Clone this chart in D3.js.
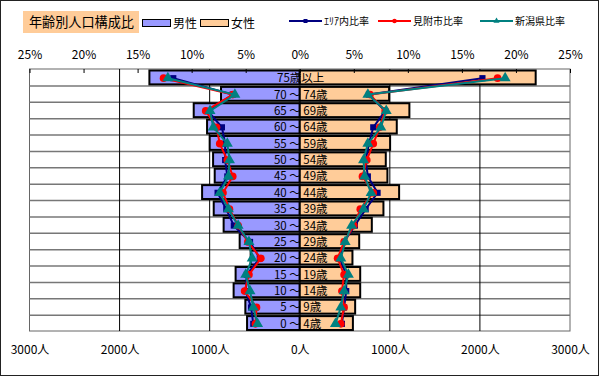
<!DOCTYPE html>
<html>
<head>
<meta charset="utf-8">
<script src="https://cdn.jsdelivr.net/npm/d3@7"></script>
<style>
  body { margin: 0; background: #fff; }
  svg { display: block; font-family: "Noto Sans CJK JP", "DejaVu Sans", sans-serif; }
</style>
</head>
<body>
<svg id="chart" width="600" height="377"></svg>
<script>
// age groups, top (oldest) to bottom
const ages = ["75歳以上", "70 ～ 74歳", "65 ～ 69歳", "60 ～ 64歳", "55 ～ 59歳", "50 ～ 54歳",
  "45 ～ 49歳", "40 ～ 44歳", "35 ～ 39歳", "30 ～ 34歳", "25 ～ 29歳", "20 ～ 24歳",
  "15 ～ 19歳", "10 ～ 14歳", "5 ～ 9歳", "0 ～ 4歳"];

// population (people)
const male = [1669, 874, 1177, 1029, 1000, 962, 944, 1084, 955, 845, 667, 545, 712, 734, 604, 585];
const female = [2619, 992, 1217, 1077, 1003, 955, 973, 1103, 929, 800, 660, 585, 671, 671, 615, 590];

// ratio (%)
const areaMale = [11.7, 6.2, 8.5, 7.2, 6.9, 6.9, 6.7, 7.6, 6.8, 6.1, 4.6, 3.7, 4.9, 5.0, 4.5, 4.3];
const areaFemale = [16.9, 6.4, 7.9, 6.8, 6.4, 6.1, 6.3, 7.2, 6.1, 5.1, 4.1, 3.7, 4.3, 4.3, 4.1, 3.9];
const mitsukeMale = [12.6, 6.2, 8.7, 7.7, 7.4, 6.7, 6.2, 7.1, 6.5, 5.7, 4.8, 3.6, 4.7, 5.1, 4.0, 4.1];
const mitsukeFemale = [18.3, 6.5, 7.9, 7.4, 6.8, 6.2, 5.8, 6.8, 5.6, 5.0, 4.1, 3.5, 4.1, 3.9, 4.1, 3.8];
const niigataMale = [12.2, 6.0, 8.3, 8.0, 6.7, 6.5, 6.6, 7.4, 6.6, 5.7, 4.7, 4.4, 5.0, 4.6, 4.3, 3.9];
const niigataFemale = [19.0, 6.3, 8.0, 7.5, 6.3, 5.9, 6.0, 6.6, 5.9, 4.8, 4.2, 3.8, 4.5, 4.1, 3.8, 3.3];

const pctTicks = [-25, -20, -15, -10, -5, 0, 5, 10, 15, 20, 25];
const popTicks = [-3000, -2000, -1000, 0, 1000, 2000, 3000];

const svg = d3.select("#chart");
const plotL = 29.5, plotR = 570, plotT = 69, plotB = 331;

const xPop = d3.scaleLinear().domain([-3000, 3000]).range([plotL, plotR]);
const xPct = d3.scaleLinear().domain([-25, 25]).range([plotL, plotR]);
const y = d3.scaleBand().domain(ages).range([plotT, plotB]);

// outer frame
svg.append("rect").attr("x", 0.5).attr("y", 0.5).attr("width", 598).attr("height", 375)
  .attr("fill", "#fff").attr("stroke", "#222");

// plot area + grid
svg.append("rect").attr("x", plotL).attr("y", plotT).attr("width", plotR - plotL).attr("height", plotB - plotT)
  .attr("fill", "#fff").attr("stroke", "#666");

svg.append("g").selectAll("line").data(ages.slice(1)).join("line")
  .attr("x1", plotL).attr("x2", plotR)
  .attr("y1", d => y(d) + 0.5).attr("y2", d => y(d) + 0.5)
  .attr("stroke", "#777").attr("stroke-width", 1.5);

svg.append("g").selectAll("line").data(popTicks.filter(d => d !== 0 && Math.abs(d) < 3000)).join("line")
  .attr("x1", d => xPop(d)).attr("x2", d => xPop(d))
  .attr("y1", plotT).attr("y2", plotB)
  .attr("stroke", "#000");

// bars
const bars = svg.append("g").attr("stroke", "#000").attr("stroke-width", 2);
bars.selectAll(".m").data(male).join("rect").attr("class", "m")
  .attr("x", d => xPop(-d)).attr("width", d => xPop(0) - xPop(-d))
  .attr("y", (d, i) => y(ages[i]) + 1.5).attr("height", y.bandwidth() - 2.5)
  .attr("fill", "#9999FF");
bars.selectAll(".f").data(female).join("rect").attr("class", "f")
  .attr("x", xPop(0)).attr("width", d => xPop(d) - xPop(0))
  .attr("y", (d, i) => y(ages[i]) + 1.5).attr("height", y.bandwidth() - 2.5)
  .attr("fill", "#FFCC99");

// age labels
svg.append("g").selectAll("text").data(ages).join("text")
  .attr("x", xPop(0) + 1).attr("y", d => y(d) + y.bandwidth() / 2 + 5)
  .attr("text-anchor", "middle").attr("font-size", 11.5).attr("fill", "#000")
  .text(d => d);

// top axis (percent)
const axTop = svg.append("g").attr("transform", `translate(0,${plotT})`)
  .call(d3.axisTop(xPct).tickValues(pctTicks).tickSize(-4).tickFormat(d => Math.abs(d) + "%"));
axTop.select(".domain").remove();
axTop.selectAll(".tick line").attr("stroke", "#000");
axTop.selectAll(".tick text").attr("y", -10).attr("font-size", 12).attr("fill", "#000")
  .attr("font-family", "'Noto Sans CJK JP', sans-serif");

// bottom axis (people)
const axBot = svg.append("g").attr("transform", `translate(0,${plotB})`)
  .call(d3.axisBottom(xPop).tickValues(popTicks).tickSize(0).tickFormat(d => Math.abs(d) + "人"));
axBot.select(".domain").remove();
axBot.selectAll(".tick text").attr("y", 14).attr("font-size", 12).attr("fill", "#000")
  .attr("font-family", "'Noto Sans CJK JP', sans-serif");

// ratio lines
const series = [
  { name: "ｴﾘｱ内比率", color: "#000080", shape: d3.symbolSquare, size: 38, m: areaMale, f: areaFemale },
  { name: "見附市比率", color: "#FF0000", shape: d3.symbolCircle, size: 46, m: mitsukeMale, f: mitsukeFemale },
  { name: "新潟県比率", color: "#008080", shape: d3.symbolTriangle, size: 52, m: niigataMale, f: niigataFemale }
];
const cy = i => y(ages[i]) + y.bandwidth() / 2 + 1;
const line = d3.line().x(d => d[0]).y(d => d[1]);

series.forEach(s => {
  const g = svg.append("g");
  const sides = [s.m.map((v, i) => [xPct(-v), cy(i)]), s.f.map((v, i) => [xPct(v), cy(i)])];
  sides.forEach(pts => {
    g.append("path").attr("d", line(pts)).attr("fill", "none")
      .attr("stroke", s.color).attr("stroke-width", 2);
    g.selectAll(null).data(pts).join("path")
      .attr("transform", d => `translate(${d[0]},${d[1]})`)
      .attr("d", d3.symbol(s.shape, s.size)).attr("fill", s.color);
  });
});

// title + legend
svg.append("rect").attr("x", 23).attr("y", 11).attr("width", 116).attr("height", 22).attr("fill", "#FFCC99");
svg.append("text").attr("x", 29).attr("y", 27).attr("font-size", 13.5)
  .attr("textLength", 105).attr("lengthAdjust", "spacingAndGlyphs")
  .attr("fill", "#000").text("年齢別人口構成比");

const legBars = [{ label: "男性", fill: "#9999FF", x: 142 }, { label: "女性", fill: "#FFCC99", x: 200 }];
legBars.forEach(b => {
  svg.append("rect").attr("x", b.x + 0.5).attr("y", 19.5).attr("width", 28).attr("height", 7)
    .attr("fill", b.fill).attr("stroke", "#000");
  svg.append("text").attr("x", b.x + 31).attr("y", 28).attr("font-size", 12).attr("fill", "#000").text(b.label);
});

const legX = [289, 378, 480];
series.forEach((s, i) => {
  const x0 = legX[i];
  svg.append("line").attr("x1", x0).attr("x2", x0 + 33).attr("y1", 21).attr("y2", 21)
    .attr("stroke", s.color).attr("stroke-width", 2);
  svg.append("path").attr("transform", `translate(${x0 + 16.5},21)`)
    .attr("d", d3.symbol(s.shape, 16)).attr("fill", s.color);
  svg.append("text").attr("x", x0 + 35).attr("y", 25).attr("font-size", 10).attr("fill", "#000").text(s.name);
});
</script>
</body>
</html>
